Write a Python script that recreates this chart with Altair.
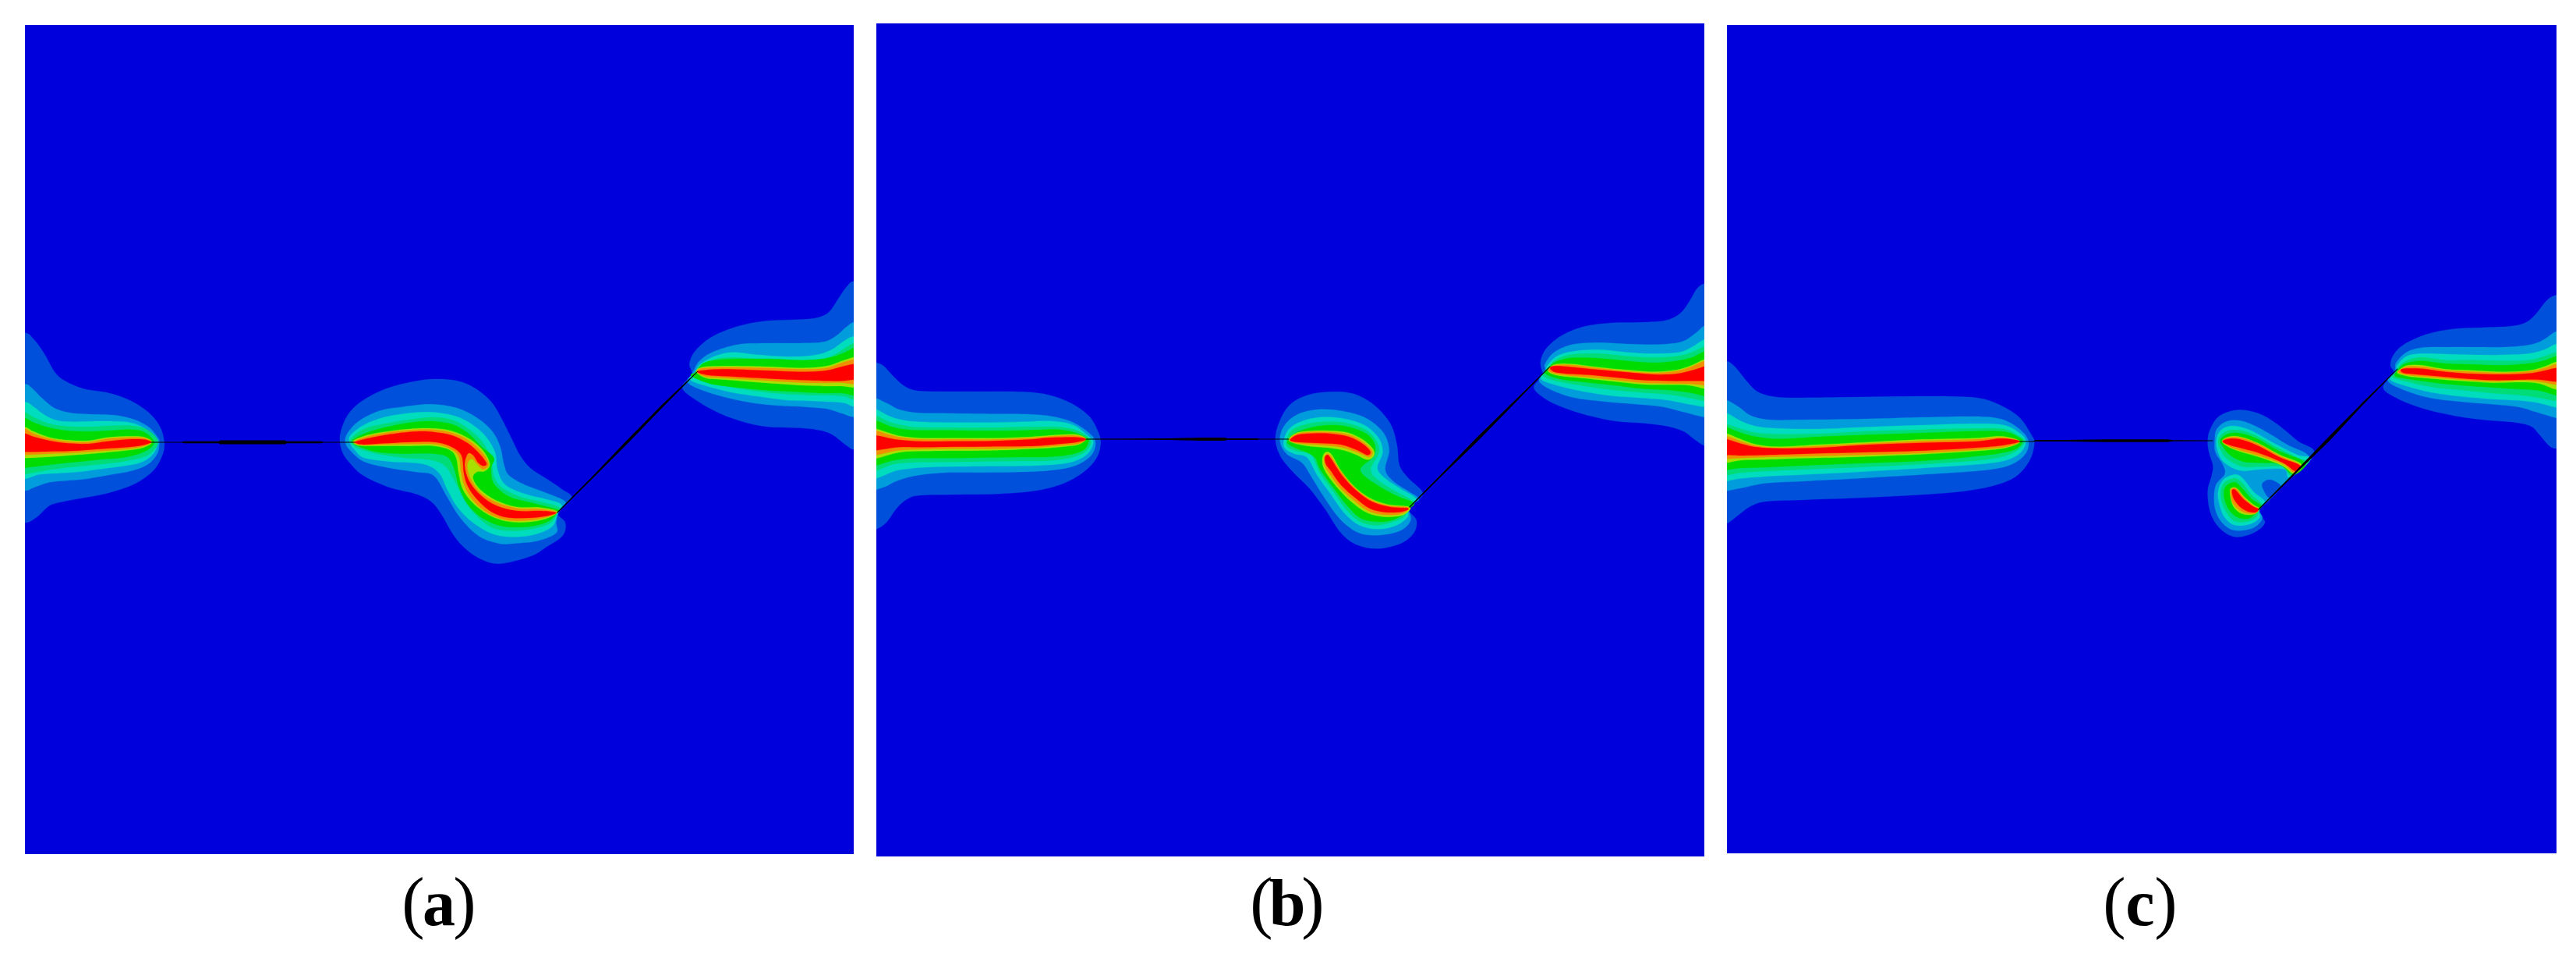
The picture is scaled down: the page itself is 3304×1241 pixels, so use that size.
import altair as alt
import pandas as pd

# contour level names, outermost first, and their colours
LEVELS = ["L1", "L2", "L3", "L4", "L5", "L6", "L7", "L8"]
COLORS = ["#0050dc", "#009cdc", "#00dcbe", "#00dc78", "#00dc00", "#a8e000", "#f09000", "#ff0000"]
HOLE_COLOR = "#0050dc"
FIELD_COLOR = "#0000dc"

# panel frames in picture pixels: x0, x1, y0, y1
PANELS = {"a": (32, 1095, 32, 1095), "b": (1124, 2186, 30, 1098), "c": (2215, 3279, 32, 1094)}

# every group: origin of the crop it was read from (3x), then outlines per level
LEFT_A_OUTER = ((0, 340), [
 ("L1", [(90,258),(130,285),(170,340),(210,410),(250,445),(320,475),(420,492),(500,520),(570,565),(615,620),(632,680),(625,730),(590,790),(520,840),(420,875),(320,895),(240,910),(190,925),(140,970),(90,992)]),
 ("L2", [(90,457),(120,470),(160,510),(210,550),(270,568),(340,573),(440,577),(520,595),(575,625),(605,660),(613,680),(605,725),(570,765),(510,790),(430,805),(330,822),(260,828),(190,835),(130,855),(90,868)]),
 ("L3", [(90,525),(130,545),(170,575),(220,597),(280,602),(400,600),(500,605),(560,630),(597,670),(605,690),(590,725),(550,755),(490,770),(400,782),(300,795),(220,800),(150,805),(90,822)]),
])
LEFT_A_INNER = ((30, 520), [
 ("L4", [(-10,22),(40,45),(100,70),(170,80),(250,82),(330,78),(420,78),(480,95),(518,140),(480,190),(400,212),(320,223),(250,230),(170,238),(100,247),(40,258),(-10,265)]),
 ("L5", [(-10,45),(40,65),(100,85),(170,97),(250,100),(320,97),(400,92),(460,100),(503,140),(470,175),(400,197),(320,205),(250,212),(170,220),(100,228),(40,235),(-10,240)]),
 ("L6", [(-10,78),(40,100),(100,122),(170,133),(250,135),(320,123),(400,118),(460,120),(495,140),(460,162),(400,172),(320,180),(250,186),(170,192),(100,197),(40,200),(-10,202)]),
 ("L7", [(-10,85),(40,108),(100,127),(170,138),(250,140),(320,128),(400,123),(460,124),(493,140),(460,157),(400,167),(320,173),(250,178),(170,183),(100,185),(40,188),(-10,190)]),
 ("L8", [(-10,105),(40,120),(100,135),(170,145),(250,147),(320,138),(400,130),(460,130),(490,140),(460,152),(400,160),(320,165),(250,170),(170,175),(100,176),(40,178),(-10,178)]),
])
LEFT_B = ((1110, 420), [
 ("L1", [(0,120),(43,135),(70,148),(110,190),(150,225),(200,243),(300,246),(450,246),(600,247),(700,258),(790,290),(860,340),(895,400),(905,445),(890,500),(840,555),(760,600),(650,628),(500,640),(350,642),(210,645),(160,660),(120,695),(80,750),(43,775),(0,790)]),
 ("L2", [(0,262),(43,272),(90,295),(130,315),(200,328),(320,330),(480,332),(620,333),(720,342),(800,365),(860,405),(885,440),(870,490),(810,530),(720,548),(600,555),(450,557),(300,558),(190,570),(120,590),(80,610),(43,623),(0,633)]),
 ("L3", [(0,305),(43,315),(90,340),(140,355),(200,362),(320,365),(480,365),(620,362),(720,360),(800,375),(855,415),(877,440),(855,485),(800,515),(720,527),(600,532),(450,533),(300,535),(190,540),(120,550),(80,565),(43,580),(0,595)]),
 ("L4", [(0,332),(43,340),(90,362),(140,375),(200,383),(320,385),(480,385),(620,382),(740,382),(810,395),(855,420),(868,440),(845,478),(790,500),(700,512),(600,513),(450,515),(300,517),(190,518),(110,525),(43,550),(0,560)]),
 ("L5", [(0,350),(43,358),(90,378),(140,390),(200,395),(320,395),(480,397),(620,395),(740,392),(810,405),(852,425),(860,435),(840,470),(780,490),(700,497),(600,498),(450,500),(300,502),(190,502),(110,510),(43,530),(0,538)]),
 ("L6", [(0,382),(43,390),(90,405),(140,418),(220,425),(350,425),(500,425),(640,420),(750,412),(815,412),(848,428),(820,450),(760,458),(650,466),(500,472),(350,473),(220,475),(130,480),(43,503),(0,510)]),
 ("L7", [(0,390),(43,397),(90,412),(140,423),(220,430),(350,430),(500,430),(640,424),(750,416),(815,416),(848,429),(820,446),(760,453),(650,461),(500,466),(350,466),(220,468),(130,472),(43,490),(0,495)]),
 ("L8", [(0,410),(43,415),(90,425),(140,433),(220,438),(350,437),(500,436),(640,430),(700,424),(815,422),(848,430),(815,440),(750,447),(650,455),(500,457),(350,458),(220,460),(130,460),(43,472),(0,475)]),
])
LEFT_C = ((2200, 420), [
 ("L1", [(0,120),(46,128),(80,155),(120,205),(160,245),(220,265),(300,270),(500,268),(700,265),(900,265),(1020,272),(1100,300),(1170,345),(1215,410),(1228,445),(1210,510),(1160,570),(1080,605),(950,630),(750,645),(550,655),(350,662),(200,668),(140,685),(90,720),(46,753),(0,765)]),
 ("L2", [(0,270),(46,280),(90,305),(140,340),(210,355),(320,355),(550,352),(800,345),(1000,342),(1100,352),(1170,390),(1205,437),(1190,490),(1130,530),(1020,550),(800,565),(550,580),(350,590),(200,598),(110,615),(46,628),(0,640)]),
 ("L3", [(0,320),(46,330),(100,360),(160,380),(250,388),(400,390),(600,382),(800,375),(1000,370),(1110,375),(1170,405),(1195,437),(1175,480),(1120,510),(1020,525),(800,540),(550,555),(350,565),(200,572),(100,580),(46,590),(0,600)]),
 ("L4", [(0,362),(46,372),(100,390),(160,405),(250,410),(400,408),(600,398),(800,392),(1000,388),(1110,390),(1165,415),(1190,437),(1165,470),(1110,495),(1020,510),(800,525),(550,537),(350,545),(200,552),(100,558),(46,568),(0,575)]),
 ("L5", [(0,372),(46,384),(100,405),(160,420),(250,428),(400,420),(600,412),(800,405),(1000,398),(1110,400),(1165,420),(1182,437),(1160,465),(1100,482),(1000,495),(800,512),(550,522),(350,530),(200,537),(100,540),(46,547),(0,553)]),
 ("L6", [(0,400),(46,408),(100,430),(160,450),(250,458),(400,450),(600,440),(800,430),(1000,425),(1100,418),(1172,437),(1120,462),(1000,475),(800,487),(550,497),(350,502),(200,507),(100,510),(46,520),(0,525)]),
 ("L7", [(0,410),(46,418),(100,438),(160,455),(250,462),(400,455),(600,445),(800,436),(1000,430),(1100,423),(1172,437),(1120,458),(1000,470),(800,482),(550,490),(350,495),(200,498),(100,502),(46,505),(0,507)]),
 ("L8", [(0,425),(46,430),(100,447),(160,460),(250,465),(400,462),(600,450),(800,443),(1000,438),(1100,427),(1170,437),(1110,452),(1000,462),(800,473),(550,480),(350,485),(200,490),(100,492),(46,490),(0,490)]),
])

RIGHT_A_OUTER = ((800, 340), [
 ("L1", [(895,60),(860,80),(825,130),(790,180),(740,203),(650,210),(540,215),(440,235),(340,275),(275,330),(253,380),(262,420),(225,470),(280,520),(370,570),(470,605),(560,622),(650,625),(740,632),(800,650),(860,695),(895,710)]),
 ("L2", [(895,218),(860,235),(820,270),(770,295),(680,300),(560,300),(440,305),(340,335),(290,370),(270,405),(262,420),(245,450),(300,480),(400,510),(500,530),(600,540),(700,545),(780,552),(840,570),(895,585)]),
 ("L3", [(895,272),(850,290),(800,325),(740,345),(640,352),(520,345),(420,335),(350,350),(295,380),(275,410),(255,440),(320,465),(420,490),(520,505),(620,518),(720,522),(790,525),(850,530),(895,545)]),
 ("L4", [(895,300),(850,320),(800,350),(740,365),(640,368),(520,362),(420,355),(350,362),(300,385),(275,415),(265,430),(330,450),(420,470),(520,485),(620,495),(720,500),(790,500),(850,505),(895,518)]),
])
RIGHT_A_INNER = ((880, 420), [
 ("L5", [(660,78),(645,78),(600,100),(540,118),(450,125),(300,120),(150,122),(70,135),(35,172),(20,185),(80,212),(150,225),(300,240),(450,248),(540,252),(600,252),(645,261),(660,261)]),
 ("L6", [(660,114),(645,114),(600,128),(540,148),(450,155),(300,150),(150,148),(60,153),(40,172),(80,195),(150,200),(300,212),(450,222),(540,225),(600,225),(645,231),(660,231)]),
 ("L7", [(660,122),(645,122),(600,135),(540,155),(450,160),(300,155),(150,153),(60,157),(43,172),(80,190),(150,194),(300,203),(450,212),(540,213),(600,212),(645,218),(660,218)]),
 ("L8", [(660,140),(645,140),(600,150),(540,165),(450,170),(300,165),(150,160),(60,165),(45,172),(80,182),(150,187),(300,195),(450,202),(540,205),(600,205),(645,200),(660,200)]),
])
RIGHT_B = ((1960, 340), [
 ("L1", [(720,70),(680,70),(650,90),(620,140),(585,185),(530,212),(430,220),(320,222),(220,235),(130,270),(70,320),(48,370),(55,410),(65,420),(22,468),(60,510),(130,545),(240,580),(340,600),(450,608),(540,620),(600,640),(640,670),(680,695),(720,695)]),
 ("L2", [(720,232),(680,232),(640,265),(590,295),(500,305),(380,303),(270,298),(170,305),(100,335),(65,380),(65,405),(42,445),(90,480),(180,510),(300,525),(420,535),(520,545),(600,565),(680,585),(720,585)]),
 ("L3", [(720,285),(680,285),(630,315),(580,335),(480,340),(380,335),(270,325),(170,332),(110,350),(75,385),(68,405),(50,438),(110,462),(210,485),(320,502),(430,510),(530,518),(620,535),(680,545),(720,545)]),
 ("L4", [(720,312),(680,312),(630,335),(570,350),(480,355),(380,350),(270,340),(170,343),(110,362),(80,390),(58,425),(120,448),(220,465),(330,480),(440,490),(540,497),(620,510),(680,522),(720,522)]),
 ("L5", [(720,332),(680,332),(630,355),(570,368),(480,375),(380,368),(270,358),(170,356),(110,370),(83,390),(64,415),(120,437),(220,450),(330,462),(440,475),(540,480),(620,490),(680,503),(720,503)]),
 ("L6", [(720,362),(680,362),(630,385),(570,403),(480,410),(380,403),(270,392),(170,380),(110,380),(85,392),(78,410),(120,425),(220,435),(330,447),(440,458),(540,460),(620,462),(680,475),(720,475)]),
 ("L7", [(720,368),(680,368),(630,390),(570,407),(480,414),(380,408),(270,396),(170,384),(110,384),(85,393),(80,408),(120,420),(220,430),(330,441),(440,452),(540,455),(620,456),(680,462),(720,462)]),
 ("L8", [(720,390),(680,390),(640,402),(570,418),(480,420),(380,412),(270,402),(170,392),(110,388),(85,393),(100,410),(160,418),(250,423),(340,432),(440,442),(540,445),(620,445),(680,445),(720,445)]),
])
RIGHT_C = ((3040, 340), [
 ("L1", [(760,115),(716,115),(680,135),(640,185),(600,220),(540,235),(430,240),(320,245),(220,265),(130,305),(90,345),(78,385),(90,415),(50,470),(100,510),(200,550),(320,578),(440,595),(560,605),(620,620),(650,650),(690,695),(716,705),(760,705)]),
 ("L2", [(760,255),(716,255),(670,285),(620,305),(520,315),(400,315),(300,315),(200,317),(140,335),(100,375),(95,410),(68,445),(130,480),(230,510),(350,525),(470,535),(570,545),(640,565),(716,587),(760,587)]),
 ("L3", [(760,303),(716,303),(670,325),(610,340),(510,345),(400,345),(290,342),(200,340),(140,350),(105,385),(100,412),(78,440),(140,465),(240,490),(350,505),(470,515),(570,520),(650,530),(716,547),(760,547)]),
 ("L4", [(760,335),(716,335),(670,350),(610,365),(510,368),(400,365),(290,365),(200,355),(145,365),(110,390),(105,410),(85,430),(150,450),(250,470),(350,480),(470,492),(580,500),(650,510),(716,522),(760,522)]),
 ("L5", [(760,350),(716,350),(670,367),(610,378),(510,385),(400,382),(290,378),(200,368),(145,375),(112,395),(95,425),(150,438),(250,452),(350,462),(470,470),(580,477),(650,482),(716,500),(760,500)]),
 ("L6", [(760,372),(716,372),(670,390),(610,405),(510,410),(400,405),(290,400),(200,385),(145,385),(115,400),(105,415),(150,428),(250,437),(350,445),(470,452),(580,450),(650,455),(716,478),(760,478)]),
 ("L7", [(760,380),(716,380),(670,396),(610,408),(510,414),(400,410),(290,404),(200,391),(145,390),(115,402),(110,413),(150,423),(250,432),(350,440),(470,447),(580,443),(650,448),(716,460),(760,460)]),
 ("L8", [(760,395),(716,395),(660,408),(610,416),(510,420),(400,418),(290,410),(200,398),(145,397),(118,402),(130,415),(180,420),(260,427),(350,435),(470,442),(580,440),(650,440),(716,448),(760,448)]),
])

CENTER_A = ((400, 440), [
 ("L1", [(108,360),(130,290),(170,240),(230,200),(300,170),(390,148),(470,138),(560,145),(630,175),(690,225),(730,290),(770,370),(800,430),(840,480),(900,520),(960,560),(1000,595),(945,650),(975,690),(965,740),(900,785),(840,820),(720,848),(640,825),(580,780),(540,730),(500,660),(460,610),(400,580),(300,555),(200,510),(150,465),(118,420)]),
 ("L2", [(135,350),(180,300),(260,260),(350,245),(460,235),(560,250),(640,290),(695,340),(725,400),(740,470),(760,510),(820,545),(900,575),(975,610),(950,650),(940,690),(940,730),(870,760),(780,770),(720,770),(640,740),(570,670),(520,590),(470,510),(400,495),(300,480),(200,455),(150,415),(130,385)]),
 ("L3", [(145,360),(190,320),(260,290),(350,272),(450,265),(550,280),(620,315),(670,360),(705,420),(715,490),(745,545),(820,580),(900,600),(960,620),(945,655),(925,705),(860,735),(780,745),(700,735),(620,690),(560,630),(520,560),(490,500),(430,465),(300,455),(200,440),(165,410),(150,390)]),
 ("L4", [(150,368),(200,330),(280,310),(370,295),(460,285),(540,295),(610,335),(660,385),(690,450),(700,510),(730,555),(800,590),(880,610),(950,630),(945,650),(920,690),(860,712),(780,722),(700,712),(640,670),(590,610),(550,530),(510,470),(450,448),(350,440),(250,425),(180,405),(155,388)]),
 ("L5", [(158,372),(210,345),(290,322),(380,305),(460,300),(540,312),(600,345),(650,395),(700,440),(690,480),(700,540),(760,590),(850,615),(945,640),(945,650),(910,685),(840,705),(740,705),(660,675),(600,620),(565,550),(550,490),(525,440),(470,425),(350,425),(250,418),(170,392)]),
 ("L6", [(160,375),(220,352),(300,338),(400,328),(470,328),(540,338),(610,370),(660,415),(685,465),(665,492),(635,495),(620,520),(650,565),(710,605),(790,630),(880,632),(945,648),(900,675),(830,688),(750,685),(680,660),(620,615),(580,560),(565,500),(555,440),(530,410),(470,395),(380,395),(280,395),(200,395),(170,390)]),
 ("L7", [(165,377),(220,358),(300,342),(400,333),(470,333),(540,345),(605,375),(655,420),(680,465),(660,485),(640,470),(615,445),(598,470),(610,520),(650,575),(710,612),(790,635),(880,638),(942,650),(900,670),(830,682),(750,680),(680,655),(625,610),(590,555),(575,500),(565,435),(530,405),(470,388),(380,388),(280,390),(200,392),(172,388)]),
 ("L8", [(170,378),(220,365),(300,350),(400,340),(470,342),(540,355),(600,385),(645,425),(672,462),(660,472),(640,460),(620,430),(600,425),(588,470),(605,530),(650,585),(710,625),(790,645),(880,645),(940,652),(900,665),(830,672),(750,670),(690,648),(635,600),(600,550),(585,500),(575,430),(530,395),(470,380),(380,380),(280,385),(200,390),(172,385)]),
])
CENTER_B = ((1550, 470), [
 ("L1", [(258,285),(270,220),(310,150),(380,110),(470,97),(560,105),(640,150),(700,220),(725,300),(735,380),(770,430),(825,490),(770,545),(800,590),(790,640),(740,680),(650,700),(570,685),(510,640),(450,550),(390,470),(330,410),(280,350)]),
 ("L2", [(275,285),(290,230),(340,185),(420,165),(510,170),(600,195),(670,250),(695,320),(680,395),(710,440),(770,480),(810,510),(770,540),(778,590),(740,630),(660,648),(580,640),(510,590),(450,510),(400,430),(360,370),(300,335)]),
 ("L3", [(290,285),(310,240),(360,210),(430,195),(520,200),(600,225),(655,275),(670,330),(650,390),(680,430),(740,470),(800,510),(770,545),(765,580),(720,612),(650,625),(580,610),(520,560),(470,490),(420,420),(380,350),(330,335),(295,315)]),
 ("L4", [(300,285),(320,245),(375,222),(440,212),(520,215),(600,240),(645,285),(655,330),(625,395),(650,435),(720,480),(790,520),(770,545),(750,580),(700,600),(640,610),(580,595),(530,550),(480,480),(430,410),(395,340),(340,325),(305,310)]),
 ("L5", [(305,283),(335,255),(400,233),(470,225),(540,232),(610,260),(640,300),(635,345),(590,385),(590,410),(640,450),(720,495),(790,525),(765,550),(740,575),(690,595),(630,595),(580,580),(530,530),(480,465),(430,395),(405,345),(340,315),(310,300)]),
 ("L6", [(308,280),(340,255),(400,247),(470,247),(540,255),(600,285),(635,320),(635,345),(610,358),(570,340),(520,322),(460,312),(380,305),(330,295)]),
 ("L6", [(440,345),(455,328),(475,340),(510,400),(560,460),(620,505),(690,530),(775,540),(750,570),(680,578),(610,562),(550,520),(500,470),(460,420),(440,380)]),
 ("L7", [(312,280),(342,258),(400,251),(470,252),(540,262),(595,290),(630,325),(620,348),(585,335),(520,312),(450,303),(375,298),(328,292)]),
 ("L7", [(445,350),(458,335),(475,350),(515,410),(565,468),(625,512),(695,535),(770,542),(745,565),(680,570),(615,555),(560,515),(505,465),(465,410),(448,380)]),
 ("L8", [(315,280),(345,262),(400,257),(470,258),(540,270),(590,295),(622,325),(612,340),(570,320),(510,300),(440,295),(370,292),(325,288)]),
 ("L8", [(448,350),(458,340),(472,355),(515,420),(570,478),(630,520),(700,540),(768,545),(745,558),(680,560),(620,545),(565,505),(510,455),(470,400),(452,375)]),
])
CENTER_C = ((2720, 480), [
 ("L1", [(335,255),(345,210),(380,160),(450,137),(530,150),(600,190),(680,255),(745,305),(640,410),(535,520),(555,570),(510,610),(440,625),(380,590),(345,530),(335,450),(350,390),(355,350),(340,300)]),
 ("L2", [(362,255),(370,210),(410,180),(470,180),(550,215),(640,270),(725,320),(650,400),(575,480),(535,520),(545,555),(510,590),(440,600),(390,570),(362,510),(365,430),(400,385),(395,350),(365,300)]),
 ("HOLE", [(545,420),(570,405),(600,415),(615,435),(575,475),(550,445)]),
 ("L3", [(368,255),(385,215),(430,198),(500,215),(590,265),(680,310),(733,325),(650,395),(630,365),(540,365),(460,370),(400,340),(375,300)]),
 ("L3", [(375,450),(395,405),(440,385),(470,400),(510,450),(555,490),(530,520),(535,550),(500,575),(440,580),(400,550),(380,500)]),
 ("L4", [(375,255),(395,225),(440,213),(510,230),(600,280),(690,325),(725,335),(660,390),(620,355),(540,355),(470,355),(410,325),(385,290)]),
 ("L4", [(385,450),(400,415),(440,400),(470,420),(505,465),(545,500),(530,520),(525,545),(490,565),(440,565),(410,535),(390,495)]),
 ("L5", [(383,255),(405,232),(450,225),(520,245),(610,295),(710,340),(665,385),(610,345),(540,340),(470,335),(420,310),(395,280)]),
 ("L5", [(397,450),(410,425),(440,415),(465,435),(505,480),(540,505),(520,535),(490,555),(450,550),(420,525),(402,490)]),
 ("L6", [(390,258),(415,240),(460,240),(530,265),(610,308),(695,345),(668,382),(620,350),(540,320),(470,300),(420,282)]),
 ("L6", [(420,450),(430,435),(450,440),(475,470),(510,500),(533,515),(520,535),(490,540),(455,530),(430,500)]),
 ("L7", [(392,258),(415,243),(460,243),(530,268),(610,312),(692,350),(668,378),(625,345),(540,315),(470,295),(420,278)]),
 ("L7", [(422,450),(432,438),(448,442),(475,475),(510,505),(530,517),(520,533),(490,535),(458,522),(432,495)]),
 ("L8", [(392,258),(415,248),(460,250),(530,275),(610,318),(690,350),(672,372),(625,340),(540,305),(470,285),(420,272)]),
 ("L8", [(428,450),(435,442),(447,450),(473,480),(510,508),(530,518),(520,530),(492,528),(460,510),(436,480)]),
])

# (group, how far its first and last points are pushed sideways off the frame, in crop units)
GROUPS = {
 "a": [(LEFT_A_OUTER, -120), (LEFT_A_INNER, -120), (RIGHT_A_OUTER, 120), (RIGHT_A_INNER, 120), (CENTER_A, 0)],
 "b": [(LEFT_B, -120), (RIGHT_B, 120), (CENTER_B, 0)],
 "c": [(LEFT_C, -120), (RIGHT_C, 120), (CENTER_C, 0)],
}

# fractures: x, y, thickness in picture pixels
CRACKS = {
 "a": [[(193,567,1),(233,567,1),(236,567,2.5),(280,567,2.5),(283,567,5),(365,567,5),(368,567,2.5),(412,567,2.5),(415,567,1),(455,567,1)],
       [(715,657,1.2),(760,612,2),(805,566,3.5),(850,520,3),(895,476,1)]],
 "b": [[(1393,563,1),(1460,563,1.5),(1500,563,2),(1540,563,4),(1570,563,4),(1575,563,2),(1612,563,2),(1616,563,1),(1653,563,1)],
       [(1808,650,1.2),(1850,608,2),(1893,565,4),(1940,518,2.5),(1988,470,1)]],
 "c": [[(2590,566,1),(2608,566,1),(2611,565,2),(2650,565,2),(2700,565,3.5),(2780,565,3.5),(2787,565,1.5),(2838,565,1)],
       [(2897,653,1.2),(2940,610,2),(2987,563,4.5),(3030,518,2.5),(3075,473,1)]],
}

LABEL_X = {"a": (530, 563, 596), "b": (1618, 1651, 1684), "c": (2712, 2745, 2778)}
LABEL_LETTERS = {"a": "a", "b": "b", "c": "c"}
LABEL_BASE = 1186

Y_DOMAIN = [24, 1216]
HEIGHT = Y_DOMAIN[1] - Y_DOMAIN[0]


def polygons(panel):
    rows = []
    pid = 0
    for ((ox, oy), shapes), push in GROUPS[panel]:
        for level, pts in shapes:
            if push:
                pts = [(pts[0][0] + push, pts[0][1])] + pts + [(pts[-1][0] + push, pts[-1][1])]
            for i, (x, y) in enumerate(pts):
                rows.append({"level": level, "poly": pid, "i": i, "x": ox + x / 3, "y": oy + y / 3})
            pid += 1
    return pd.DataFrame(rows)


def panel_chart(panel):
    x0, x1, y0, y1 = PANELS[panel]
    xs = alt.Scale(domain=[x0, x1], nice=False, zero=False)
    ys = alt.Scale(domain=[Y_DOMAIN[1], Y_DOMAIN[0]], nice=False, zero=False)
    X = alt.X("x:Q", scale=xs, axis=None)
    Y = alt.Y("y:Q", scale=ys, axis=None)

    layers = [alt.Chart(pd.DataFrame([{"x": x0, "x2": x1, "y": y0, "y2": y1}])).mark_rect(color=FIELD_COLOR).encode(
        x=X, x2="x2:Q", y=Y, y2="y2:Q")]

    df = polygons(panel)
    order = ["L1", "L2", "HOLE"] + LEVELS[2:]
    palette = dict(zip(LEVELS, COLORS))
    palette["HOLE"] = HOLE_COLOR
    for level in order:
        sub = df[df.level == level]
        if sub.empty:
            continue
        layers.append(alt.Chart(sub).mark_line(
            interpolate="cardinal-closed", fill=palette[level], stroke=palette[level], strokeWidth=0.3, clip=True
        ).encode(x=X, y=Y, detail="poly:N", order="i:Q"))

    rows = []
    for k, crack in enumerate(CRACKS[panel]):
        for i, (x, y, w) in enumerate(crack):
            rows.append({"k": k, "i": i, "x": x, "y": y, "w": w})
    layers.append(alt.Chart(pd.DataFrame(rows)).mark_trail(color="#000000", clip=True).encode(
        x=X, y=Y, detail="k:N", order="i:Q", size=alt.Size("w:Q", scale=None, legend=None)))

    xl = LABEL_X[panel]
    parens = pd.DataFrame([{"x": xl[0], "y": LABEL_BASE, "t": "("}, {"x": xl[2], "y": LABEL_BASE, "t": ")"}])
    letter = pd.DataFrame([{"x": xl[1], "y": LABEL_BASE, "t": LABEL_LETTERS[panel]}])
    layers.append(alt.Chart(parens).mark_text(
        font="Liberation Serif", fontSize=88, color="#000000", align="center", baseline="alphabetic"
    ).encode(x=X, y=Y, text="t:N"))
    layers.append(alt.Chart(letter).mark_text(
        font="Liberation Serif", fontSize=84, fontWeight="bold", color="#000000", align="center", baseline="alphabetic"
    ).encode(x=X, y=Y, text="t:N"))
    return alt.layer(*layers).properties(width=x1 - x0, height=HEIGHT)


chart = alt.hconcat(panel_chart("a"), panel_chart("b"), panel_chart("c"), spacing=29).properties(
    padding={"left": 24, "top": 16, "right": 0, "bottom": 0}, background="#ffffff"
).configure_view(stroke=None)

chart.save("out.html", embed_options={"renderer": "svg", "actions": False})
